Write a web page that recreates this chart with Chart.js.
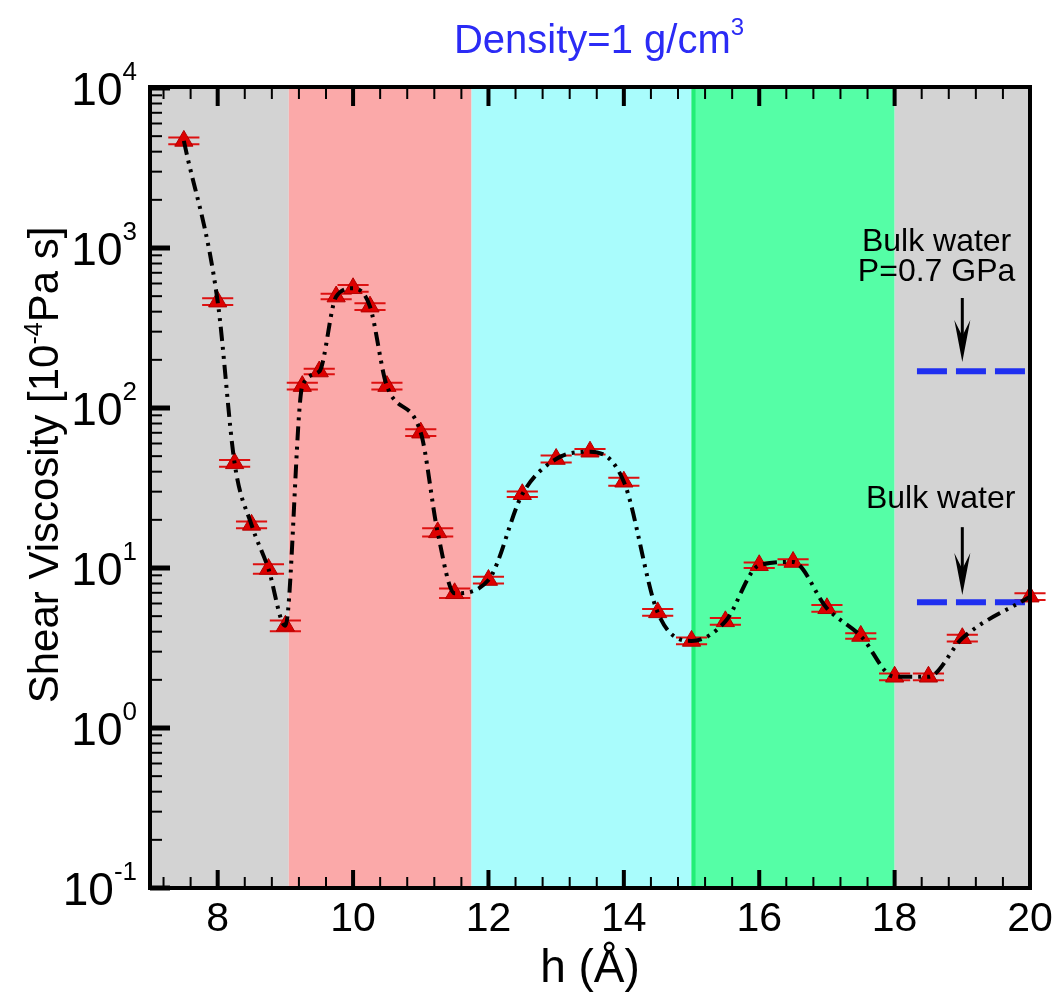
<!DOCTYPE html>
<html>
<head>
<meta charset="utf-8">
<script src="https://cdn.jsdelivr.net/npm/chart.js@4.4.1/dist/chart.umd.min.js"></script>
<style>
  html, body { margin: 0; padding: 0; background: #fff; }
  #wrap { width: 1056px; height: 996px; }
</style>
</head>
<body>
<div id="wrap"><canvas id="chart" width="1056" height="996"></canvas></div>
<script>
// valores
const hVals = [7.5, 8, 8.25, 8.5, 8.75, 9, 9.25, 9.5, 9.75, 10, 10.25, 10.5, 11, 11.25, 11.5,
  12, 12.5, 13, 13.5, 14, 14.5, 15, 15.5, 16, 16.5, 17, 17.5, 18, 18.5, 19, 20];
const viscosity = [4670, 462, 45.1, 18.6, 9.86, 4.35, 137, 169, 497, 560, 430, 137, 70.1, 16.7, 6.95,
  8.41, 28.9, 48.0, 53.3, 34.6, 5.28, 3.50, 4.64, 10.4, 10.9, 5.60, 3.76, 2.09, 2.09, 3.64, 6.62];
// erro relativo (barras)
const relErr = [0.05, 0.05, 0.05, 0.05, 0.07, 0.08, 0.05, 0.04, 0.04, 0.05, 0.05, 0.05, 0.05, 0.06, 0.07,
  0.05, 0.04, 0.05, 0.04, 0.06, 0.05, 0.05, 0.05, 0.04, 0.04, 0.05, 0.04, 0.05, 0.05, 0.05, 0.05];

// faixas coloridas
const bandStart = [7, 9.05, 11.75, 15, 18];
const bandEnd = [9.05, 11.75, 15, 18, 20];
const bandColors = ["#d3d3d3", "#fba9a9", "#a9fcfc", "#55fea6", "#d3d3d3"];

// agua bulk
const bulkLevels = [170, 6.1];
const bulkFrom = 18.33;
const bulkTo = 20;
const bulkLabels = [["Bulk water", "P=0.7 GPa"], ["Bulk water"]];

const xTickLabels = [8, 10, 12, 14, 16, 18, 20];
const yTickExp = [4, 3, 2, 1, 0, -1];

const FONT = "'Liberation Sans', Arial, sans-serif";

const pontos = hVals.map((h, i) => ({ x: h, y: viscosity[i] }));

function arrow(ctx, x, y1, y2) {
  ctx.save();
  ctx.strokeStyle = "#000";
  ctx.fillStyle = "#000";
  ctx.lineWidth = 3;
  ctx.beginPath();
  ctx.moveTo(x, y1);
  ctx.lineTo(x, y2 - 20);
  ctx.stroke();
  ctx.beginPath();
  ctx.moveTo(x, y2);
  ctx.lineTo(x - 8, y2 - 42);
  ctx.lineTo(x, y2 - 26);
  ctx.lineTo(x + 8, y2 - 42);
  ctx.closePath();
  ctx.fill();
  ctx.restore();
}

// texto com expoente
function supText(ctx, parts, x, y, align) {
  // parts: [texto, tamanho, deslocamento]
  let total = 0;
  parts.forEach(p => {
    ctx.font = p[1] + "px " + FONT;
    total += ctx.measureText(p[0]).width;
  });
  let cx = x;
  if (align === "right") cx = x - total;
  if (align === "center") cx = x - total / 2;
  ctx.textAlign = "left";
  ctx.textBaseline = "alphabetic";
  parts.forEach(p => {
    ctx.font = p[1] + "px " + FONT;
    ctx.fillText(p[0], cx, y - p[2]);
    cx += ctx.measureText(p[0]).width;
  });
}

const decor = {
  id: "decor",
  beforeDraw(chart) {
    const { ctx, chartArea: a, scales } = chart;
    ctx.save();
    ctx.fillStyle = "#fff";
    ctx.fillRect(0, 0, chart.width, chart.height);
    for (let i = 0; i < bandStart.length; i++) {
      const x1 = scales.x.getPixelForValue(bandStart[i]);
      const x2 = scales.x.getPixelForValue(bandEnd[i]);
      ctx.fillStyle = bandColors[i];
      ctx.fillRect(x1, a.top, x2 - x1, a.bottom - a.top);
    }
    // linha verde mais forte em 15
    const x15 = scales.x.getPixelForValue(15);
    ctx.fillStyle = "#22ee77";
    ctx.fillRect(x15, a.top, 4, a.bottom - a.top);
    ctx.restore();
  },
  beforeDatasetsDraw(chart) {
    const { ctx, scales } = chart;
    ctx.save();
    ctx.strokeStyle = "#dd1111";
    ctx.lineWidth = 2;
    hVals.forEach((h, i) => {
      const xl = scales.x.getPixelForValue(h - 0.23);
      const xr = scales.x.getPixelForValue(h + 0.23);
      const yHi = scales.y.getPixelForValue(viscosity[i] * (1 + relErr[i]));
      const yLo = scales.y.getPixelForValue(viscosity[i] / (1 + relErr[i]));
      ctx.beginPath();
      ctx.moveTo(xl, yHi); ctx.lineTo(xr, yHi);
      ctx.moveTo(xl, yLo); ctx.lineTo(xr, yLo);
      ctx.stroke();
    });
    ctx.restore();
  },
  afterDraw(chart) {
    const { ctx, chartArea: a, scales } = chart;
    const xs = scales.x, ys = scales.y;
    ctx.save();

    // setas
    const xa = xs.getPixelForValue(19);
    arrow(ctx, xa, ys.getPixelForValue(487), ys.getPixelForValue(194));
    arrow(ctx, xa, ys.getPixelForValue(18), ys.getPixelForValue(6.78));

    // textos bulk
    ctx.fillStyle = "#000";
    ctx.font = "32px " + FONT;
    ctx.textAlign = "center";
    ctx.textBaseline = "alphabetic";
    const xt = xs.getPixelForValue(18.62);
    ctx.fillText(bulkLabels[0][0], xt, ys.getPixelForValue(955));
    ctx.fillText(bulkLabels[0][1], xt, ys.getPixelForValue(955) + 30);
    ctx.fillText(bulkLabels[1][0], xs.getPixelForValue(18.68), ys.getPixelForValue(23.7));

    // moldura
    ctx.strokeStyle = "#000";
    ctx.lineWidth = 4;
    ctx.strokeRect(a.left, a.top - 1, a.right - a.left, a.bottom - a.top + 1);

    // ticks x (baixo e cima)
    for (let v = 7.2; v < 20; v += 0.4) {
      const vv = Math.round(v * 10) / 10;
      const px = xs.getPixelForValue(vv);
      const major = Math.abs(vv / 2 - Math.round(vv / 2)) < 0.01;
      const len = major ? 18 : 11;
      ctx.lineWidth = major ? 4 : 2;
      ctx.beginPath();
      ctx.moveTo(px, a.bottom); ctx.lineTo(px, a.bottom - len);
      ctx.moveTo(px, a.top); ctx.lineTo(px, a.top + len);
      ctx.stroke();
    }
    // ticks y
    for (let e = -1; e <= 4; e++) {
      for (let m = 1; m <= 9; m++) {
        if (e === 4 && m > 1) break;
        const py = ys.getPixelForValue(m * Math.pow(10, e));
        const major = m === 1;
        ctx.lineWidth = major ? 5 : 2;
        ctx.beginPath();
        ctx.moveTo(a.left, py); ctx.lineTo(a.left + (major ? 20 : 12), py);
        ctx.stroke();
      }
    }

    // rotulos x
    ctx.fillStyle = "#000";
    ctx.font = "41px " + FONT;
    ctx.textAlign = "center";
    ctx.textBaseline = "alphabetic";
    xTickLabels.forEach(t => {
      ctx.fillText(String(t), xs.getPixelForValue(t), a.bottom + 43);
    });
    // rotulos y
    yTickExp.forEach(e => {
      const py = ys.getPixelForValue(Math.pow(10, e));
      supText(ctx, [["10", 46, 0], [String(e), 26, 25]], 137, py + 17, "right");
    });

    // titulo eixo x
    ctx.font = "46px " + FONT;
    ctx.textAlign = "center";
    ctx.fillText("h (\u00c5)", (a.left + a.right) / 2, a.bottom + 94);

    // titulo eixo y
    ctx.save();
    ctx.translate(58, 465);
    ctx.rotate(-Math.PI / 2);
    supText(ctx, [["Shear Viscosity [10", 42, 0], ["-4", 25, 16], ["Pa s]", 42, 0]], 0, 0, "center");
    ctx.restore();

    // titulo
    ctx.fillStyle = "#2b2bf5";
    supText(ctx, [["Density=1 g/cm", 40, 0], ["3", 24, 18]], 599, 53, "center");

    ctx.restore();
  }
};

new Chart(document.getElementById("chart"), {
  type: "line",
  data: {
    datasets: [
      {
        // curva tracejada (por cima dos marcadores)
        data: pontos,
        borderColor: "#000",
        borderWidth: 4,
        borderDash: [14, 6, 3, 6, 3, 6],
        cubicInterpolationMode: "monotone",
        pointRadius: 0,
        clip: false
      },
      {
        data: pontos,
        showLine: false,
        pointStyle: "triangle",
        pointRadius: 10.5,
        pointBackgroundColor: "#dd0000",
        pointBorderColor: "#b30000",
        pointBorderWidth: 1,
        clip: false
      },
      {
        data: [{ x: bulkFrom, y: bulkLevels[0] }, { x: bulkTo, y: bulkLevels[0] }],
        borderColor: "#1f2ff0",
        borderWidth: 6,
        borderDash: [30, 9],
        pointRadius: 0
      },
      {
        data: [{ x: bulkFrom, y: bulkLevels[1] }, { x: bulkTo, y: bulkLevels[1] }],
        borderColor: "#1f2ff0",
        borderWidth: 6,
        borderDash: [30, 9],
        pointRadius: 0
      }
    ]
  },
  options: {
    responsive: false,
    animation: false,
    devicePixelRatio: 1,
    layout: { padding: { top: 88, right: 26, left: 0, bottom: 0 } },
    plugins: { legend: { display: false }, tooltip: { enabled: false }, title: { display: false } },
    scales: {
      x: {
        type: "linear", min: 7, max: 20,
        ticks: { display: false }, grid: { display: false }, border: { display: false },
        afterFit: (s) => { s.height = 108; }
      },
      y: {
        type: "logarithmic", min: 0.1, max: 10000,
        ticks: { display: false }, grid: { display: false }, border: { display: false },
        afterFit: (s) => { s.width = 150; }
      }
    }
  },
  plugins: [decor]
});
</script>
</body>
</html>
